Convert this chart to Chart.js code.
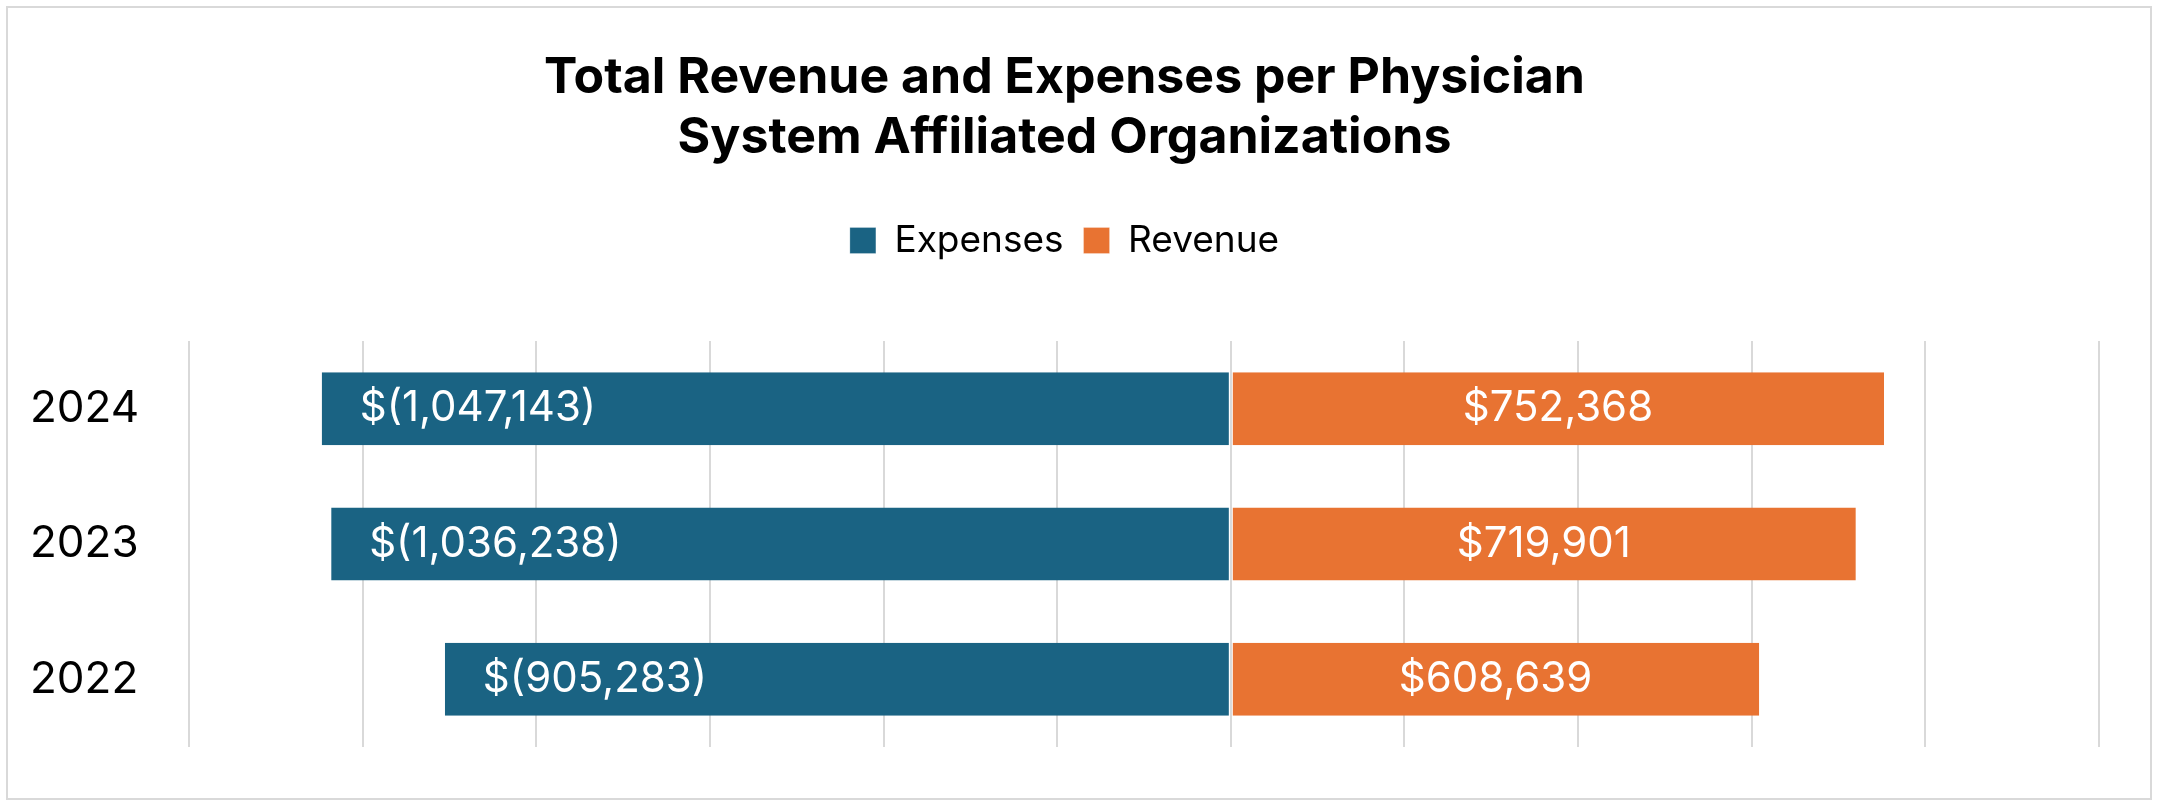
<!DOCTYPE html>
<html><head><meta charset="utf-8">
<script src="https://cdn.jsdelivr.net/npm/chart.js@4"></script>
<style>html,body{margin:0;padding:0;background:#fff}#w{width:2158px;height:806px}</style>
</head><body><div id="w"><canvas id="c"></canvas></div>
<script>
const categories = ["2024", "2023", "2022"];
const expenses = [-1047143, -1036238, -905283];
const revenue = [752368, 719901, 608639];
const seriesNames = ["Expenses", "Revenue"];
const titleLines = ["Total Revenue and Expenses per Physician", "System Affiliated Organizations"];

const fmt = v => {
  const s = Math.abs(v).toLocaleString('en-US');
  return v < 0 ? '$(' + s + ')' : '$' + s;
};
const FONT = "Inter, 'Open Sans', sans-serif";

const deco = {
  id: 'deco',
  beforeInit(ch) {
    const orig = ch.legend.fit;
    ch.legend.fit = function () { orig.bind(ch.legend)(); this.height += 72; };
  },
  beforeDraw(ch) {
    const c = ch.ctx;
    c.save();
    c.fillStyle = '#fff'; c.fillRect(0, 0, ch.width, ch.height);
    c.strokeStyle = '#d9d9d9'; c.lineWidth = 2;
    c.strokeRect(7, 7, ch.width - 14, ch.height - 14);
    c.restore();
  },
  afterDatasetsDraw(ch) {
    const c = ch.ctx;
    c.save();
    c.fillStyle = '#fff';
    c.font = '42px ' + FONT;
    c.textBaseline = 'middle';
    ch.data.datasets.forEach((ds, di) => {
      ch.getDatasetMeta(di).data.forEach((bar, i) => {
        const v = ds.data[i];
        if (v < 0) { c.textAlign = 'left'; c.fillText(fmt(v), bar.x + 38, bar.y); }
        else { c.textAlign = 'center'; c.fillText(fmt(v), (bar.x + bar.base) / 2, bar.y); }
      });
    });
    c.restore();
  }
};

new Chart(document.getElementById('c'), {
  type: 'bar',
  data: {
    labels: categories,
    datasets: [
      { label: seriesNames[0], data: expenses, backgroundColor: '#1a6383', borderColor: '#fff', borderWidth: {right: 1}, borderSkipped: false, barPercentage: 0.54, categoryPercentage: 1 },
      { label: seriesNames[1], data: revenue, backgroundColor: '#e87332', borderColor: '#fff', borderWidth: {left: 1}, borderSkipped: false, barPercentage: 0.54, categoryPercentage: 1 }
    ]
  },
  options: {
    indexAxis: 'y',
    responsive: true, maintainAspectRatio: false, animation: false,
    layout: { padding: { left: 30, right: 59, top: 20, bottom: 59 } },
    scales: {
      x: { stacked: true, min: -1200000, max: 1000000,
           ticks: { display: false, stepSize: 200000 },
           grid: { color: '#d9d9d9', lineWidth: 2, drawTicks: false },
           border: { display: false } },
      y: { stacked: true,
           ticks: { color: '#000', font: { family: FONT, size: 44 }, crossAlign: 'far', padding: 0 },
           grid: { display: false }, border: { display: false },
           afterFit: s => { s.width = 159; } }
    },
    plugins: {
      title: { display: true, text: titleLines, color: '#000',
               font: { family: FONT, size: 50, weight: 'bold' }, lineHeight: 1.3,
               padding: { top: 28, bottom: 34 } },
      legend: { position: 'top',
                labels: { color: '#000', font: { family: FONT, size: 37 }, boxWidth: 26, boxHeight: 26, padding: 20 } },
      tooltip: { enabled: false }
    }
  },
  plugins: [deco]
});
</script></body></html>
